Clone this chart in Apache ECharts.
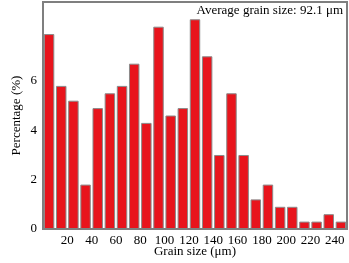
<!DOCTYPE html>
<html>
<head>
<meta charset="utf-8">
<script src="https://cdn.jsdelivr.net/npm/echarts@6/dist/echarts.min.js"></script>
<style>
    html, body { margin: 0; padding: 0; background: #fff; }
    #chart { width: 349px; height: 263px; }
</style>
</head>
<body>
<div id="chart"></div>
<script>
/* 晶粒尺寸分布直方图 */

// bin starts (um), each bin is 10 um wide
const binStarts = [0, 10, 20, 30, 40, 50, 60, 70, 80, 90, 100, 110, 120,
    130, 140, 150, 160, 170, 180, 190, 200, 210, 220, 230, 240];
// percentage in each bin
const percent = [7.9, 5.8, 5.2, 1.8, 4.9, 5.5, 5.8, 6.7, 4.3, 8.2, 4.6, 4.9, 8.5,
    7.0, 3.0, 5.5, 3.0, 1.2, 1.8, 0.9, 0.9, 0.3, 0.3, 0.6, 0.3];
const xTicks = [20, 40, 60, 80, 100, 120, 140, 160, 180, 200, 220, 240];
const yTicks = [0, 2, 4, 6];
const note = 'Average grain size: 92.1 \u03bcm';

const FONT = '"Liberation Serif", "DejaVu Serif", serif';
const AXIS_GRAY = '#7f7f7f';

function renderGrain(container) {
    let grid = { left: 43, right: 2, top: 2, bottom: 34, outerBoundsMode: 'none', containLabel: false };

    let xAxis = [{
        // bars sit in this one
        type: 'category',
        data: binStarts,
        boundaryGap: true,
        axisLine: { show: true, onZero: false, lineStyle: { color: AXIS_GRAY, width: 2 } },
        axisTick: { show: false },
        axisLabel: { show: false }
    }, {
        // labels on bin edges
        type: 'value',
        position: 'bottom',
        min: 0,
        max: 250,
        interval: 10,
        axisLine: { show: false },
        axisTick: { show: false },
        splitLine: { show: false },
        axisLabel: {
            color: '#000',
            fontFamily: FONT,
            fontSize: 13,
            margin: 5,
            formatter: function (v) {
                return xTicks.indexOf(v) >= 0 ? String(v) : '';
            }
        },
        name: 'Grain size (\u03bcm)',
        nameLocation: 'middle',
        nameGap: 16,
        nameMoveOverlap: false,
        nameTextStyle: { color: '#000', fontFamily: FONT, fontSize: 13 }
    }];

    let yAxis = {
        type: 'value',
        min: 0,
        max: 9.2,
        interval: 2,
        axisLine: { show: true, lineStyle: { color: AXIS_GRAY, width: 2 } },
        axisTick: { show: false },
        splitLine: { show: false },
        axisLabel: {
            color: '#000',
            fontFamily: FONT,
            fontSize: 13,
            margin: 6,
            formatter: function (v) {
                return yTicks.indexOf(v) >= 0 ? String(v) : '';
            }
        },
        name: 'Percentage (%)',
        nameLocation: 'middle',
        nameGap: 20,
        nameMoveOverlap: false,
        nameTextStyle: { color: '#000', fontFamily: FONT, fontSize: 13 }
    };

    let series = [{
        type: 'bar',
        xAxisIndex: 0,
        data: percent,
        barCategoryGap: '14%',
        itemStyle: {
            color: '#e8141c',
            borderColor: '#8a8a8a',
            borderWidth: 1
        },
        silent: true
    }];

    let graphic = [{
        // frame around the plot
        type: 'rect',
        shape: { x: 43, y: 2, width: 304, height: 227 },
        style: { fill: 'none', stroke: AXIS_GRAY, lineWidth: 2 },
        z: 10
    }, {
        type: 'text',
        right: 6,
        top: 4,
        style: {
            text: note,
            fill: '#000',
            font: '13px ' + FONT
        },
        z: 11
    }];

    let option = {
        animation: false,
        backgroundColor: '#fff',
        grid: grid,
        xAxis: xAxis,
        yAxis: yAxis,
        series: series,
        graphic: graphic
    };
    let chart = echarts.init(container, null, { renderer: 'canvas' });
    chart.setOption(option);
}

let x = document.getElementById('chart');
if (x) {
    renderGrain(x);
}
</script>
</body>
</html>
